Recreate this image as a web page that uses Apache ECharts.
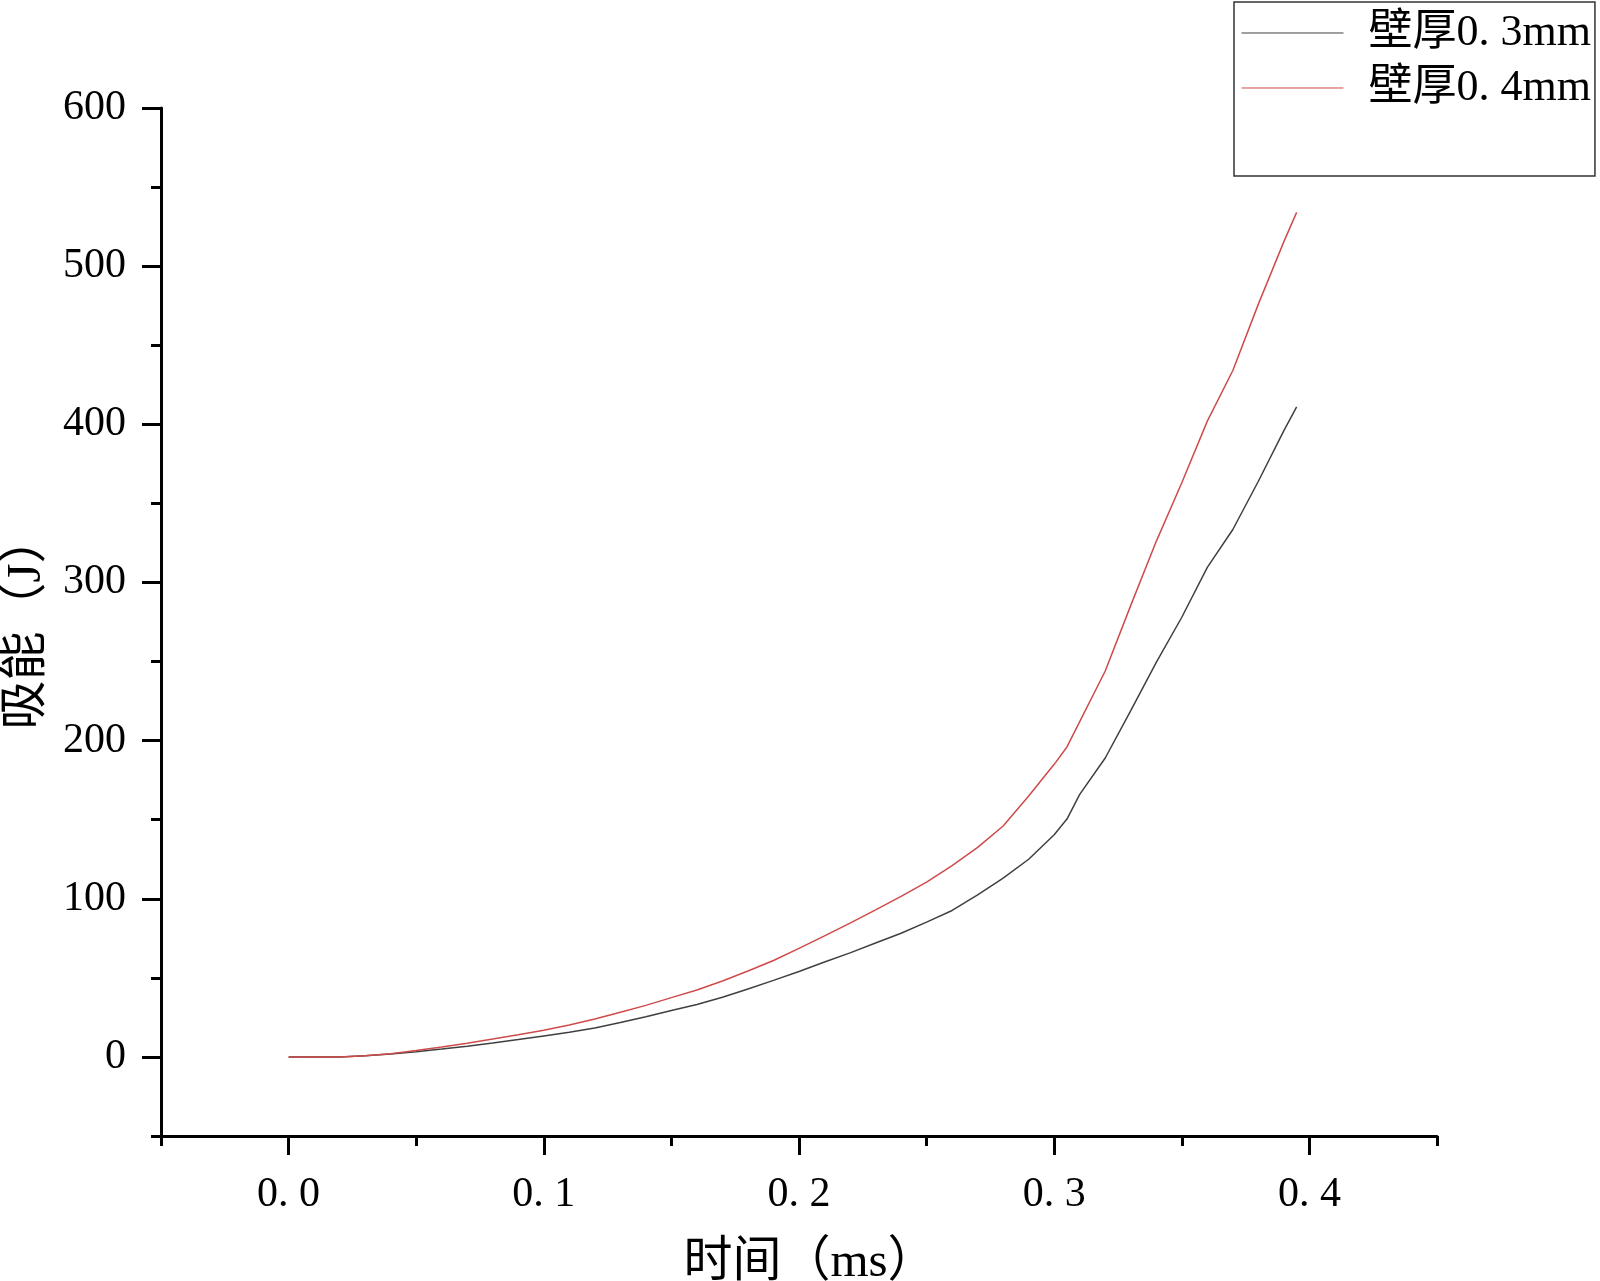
<!DOCTYPE html>
<html>
<head>
<meta charset="utf-8">
<title>吸能-时间</title>
<script src="https://cdn.jsdelivr.net/npm/echarts@6/dist/echarts.min.js"></script>
<style>
  html, body { margin: 0; padding: 0; background: #fff; }
  #main { width: 1600px; height: 1281px; }
</style>
</head>
<body>
<div id="main"></div>
<script>
// time (ms)
var times = [0, 0.01, 0.02, 0.03, 0.04, 0.05, 0.06, 0.07, 0.08, 0.09,
  0.10, 0.11, 0.12, 0.13, 0.14, 0.15, 0.16, 0.17, 0.18, 0.19,
  0.20, 0.21, 0.22, 0.23, 0.24, 0.25, 0.26, 0.27, 0.28, 0.29,
  0.30, 0.305, 0.31, 0.32, 0.33, 0.34, 0.35, 0.36, 0.37, 0.38, 0.39, 0.395];
// 壁厚0.3mm
var energy03 = [0, 0, 0, 0.7, 1.8, 3.3, 5, 6.8, 8.8, 11,
  13.3, 15.6, 18.3, 21.7, 25.4, 29.3, 33.2, 37.7, 43, 48.4,
  54, 60, 65.8, 72, 78.2, 85.2, 92.6, 102.5, 113, 125,
  140.5, 150.4, 166, 189, 219, 249.5, 278, 309.5, 333.5, 364, 396, 411];
// 壁厚0.4mm
var energy04 = [0, 0, 0, 0.8, 2, 4, 6.3, 8.7, 11.3, 14,
  16.9, 20.2, 24, 28.3, 32.6, 37.5, 42.3, 48, 54.3, 61,
  68.6, 76.5, 84.6, 93, 101.5, 110.5, 121, 132.5, 146, 165,
  185, 196, 212, 244, 285.5, 326, 363, 402, 434, 476, 515.5, 534];

var seriesNames = ['壁厚0. 3mm', '壁厚0. 4mm'];
var seriesColors = ['#404040', '#cf4a4a'];
var xMajorTicks = [0, 0.1, 0.2, 0.3, 0.4];
var xMinorTicks = [-0.05, 0.05, 0.15, 0.25, 0.35, 0.45];
var yMajorTicks = [0, 100, 200, 300, 400, 500, 600];
var yMinorTicks = [-50, 50, 150, 250, 350, 450, 550];

var fontFamily = "'Liberation Serif', 'Noto Sans CJK SC', serif";

function pairs(xs, ys) {
  var out = [];
  for (var i = 0; i < xs.length; i++) {
    out.push([xs[i], ys[i]]);
  }
  return out;
}

var chart = echarts.init(document.getElementById('main'));

var gridPos = { left: 161, right: 163, top: 108, bottom: 145, outerBoundsMode: 'none', containLabel: false };
var axisLine = { show: true, onZero: false, lineStyle: { color: '#000', width: 3 } };

var option = {
  backgroundColor: '#ffffff',
  animation: false,
  color: seriesColors,
  textStyle: { fontFamily: fontFamily },
  grid: [
    Object.assign({}, gridPos),
    Object.assign({}, gridPos)
  ],
  legend: {
    orient: 'vertical',
    left: 1234,
    top: 2,
    padding: [9, 4, 66, 7],
    itemGap: 11,
    itemWidth: 102,
    itemHeight: 14,
    borderColor: '#333',
    borderWidth: 1.5,
    borderRadius: 0,
    itemStyle: { opacity: 0 },
    lineStyle: { width: 1 },
    textStyle: {
      fontFamily: fontFamily,
      fontSize: 44,
      color: '#000',
      padding: [0, 0, 0, 20]
    },
    data: seriesNames
  },
  xAxis: [{
    type: 'value',
    gridIndex: 0,
    min: -0.05,
    max: 0.45,
    name: '时间（ms）',
    nameLocation: 'middle',
    nameGap: 103,
    nameTextStyle: { fontFamily: fontFamily, fontSize: 49, color: '#000', padding: [0, 0, 0, 22] },
    axisLine: axisLine,
    axisTick: { show: true, inside: false, length: 19, customValues: xMajorTicks, lineStyle: { color: '#000', width: 3 } },
    axisLabel: {
      show: true,
      margin: 38,
      customValues: xMajorTicks,
      fontSize: 42,
      color: '#000',
      fontFamily: fontFamily,
      formatter: function (v) { return v.toFixed(1).replace('.', '. '); }
    },
    splitLine: { show: false }
  }, {
    type: 'value',
    gridIndex: 1,
    min: -0.05,
    max: 0.45,
    axisLine: { show: false, onZero: false },
    axisTick: { show: true, length: 10, customValues: xMinorTicks, lineStyle: { color: '#000', width: 3 } },
    axisLabel: { show: false },
    splitLine: { show: false }
  }],
  yAxis: [{
    type: 'value',
    gridIndex: 0,
    min: -50,
    max: 600,
    name: '吸能（J）',
    nameLocation: 'middle',
    nameGap: 106,
    nameTextStyle: { fontFamily: fontFamily, fontSize: 49, color: '#000' },
    axisLine: axisLine,
    axisTick: { show: true, inside: false, length: 19, customValues: yMajorTicks, lineStyle: { color: '#000', width: 3 } },
    axisLabel: {
      show: true,
      margin: 35,
      customValues: yMajorTicks,
      fontSize: 42,
      color: '#000',
      fontFamily: fontFamily
    },
    splitLine: { show: false }
  }, {
    type: 'value',
    gridIndex: 1,
    min: -50,
    max: 600,
    axisLine: { show: false, onZero: false },
    axisTick: { show: true, length: 10, customValues: yMinorTicks, lineStyle: { color: '#000', width: 3 } },
    axisLabel: { show: false },
    splitLine: { show: false }
  }],
  series: [{
    name: seriesNames[0],
    type: 'line',
    xAxisIndex: 0,
    yAxisIndex: 0,
    symbol: 'none',
    lineStyle: { color: seriesColors[0], width: 1.5 },
    data: pairs(times, energy03)
  }, {
    name: seriesNames[1],
    type: 'line',
    xAxisIndex: 0,
    yAxisIndex: 0,
    symbol: 'none',
    lineStyle: { color: seriesColors[1], width: 1.5 },
    data: pairs(times, energy04)
  }]
};

chart.setOption(option);
</script>
</body>
</html>
